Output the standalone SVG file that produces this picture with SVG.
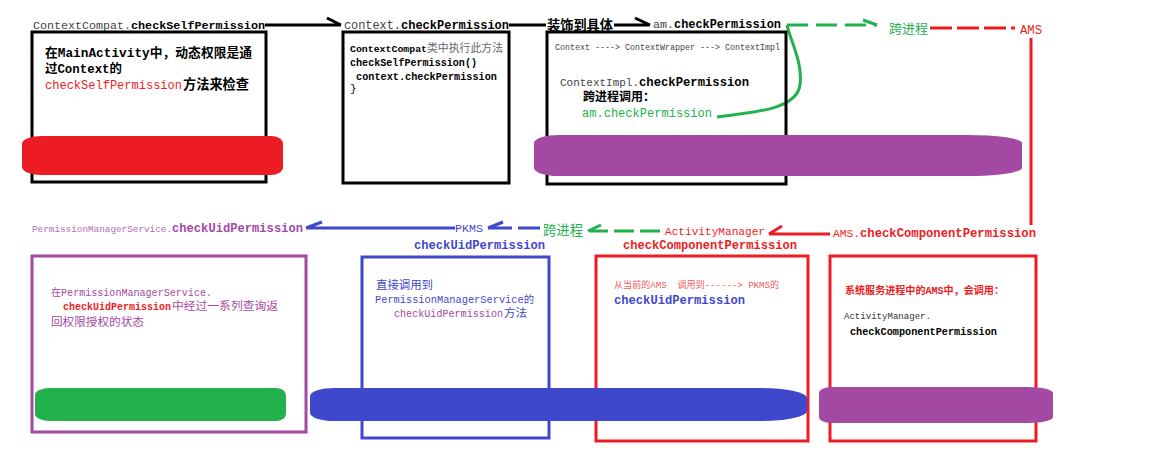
<svg xmlns="http://www.w3.org/2000/svg" width="1158" height="465" viewBox="0 0 1158 465">
<style>
text{font-family:"Liberation Mono","Noto Sans CJK SC",monospace}
.b{font-weight:bold}
.box{fill:none;stroke-width:3}
.ln{fill:none;stroke-width:3;stroke-linecap:butt}
</style>
<rect width="1158" height="465" fill="#fff"/>

<g id="connectors">
  <path class="ln" stroke="#000" d="M265,25 H341 M327,18 L341,25"/>
  <path class="ln" stroke="#000" d="M509,25 H546"/>
  <path class="ln" stroke="#000" d="M614,25 H650 M635,18 L650,25"/>
  <path class="ln" stroke="#22b14c" d="M717,117 C760,112 797,108 800,85 C803,62 790,40 787,25"/>
  <path class="ln" stroke="#22b14c" d="M787,25 H877" stroke-dasharray="21 8"/>
  <path class="ln" stroke="#22b14c" d="M863,20 L877,25"/>
  <path class="ln" stroke="#ed1c24" d="M930,28 H1015" stroke-dasharray="22 5"/>
  <path class="ln" stroke="#ed1c24" d="M1031,38 V225"/>
  <path class="ln" stroke="#ed1c24" d="M830,234 H769 M782,226 L769,234"/>
  <path class="ln" stroke="#22b14c" d="M660,231 H589" stroke-dasharray="20 6"/>
  <path class="ln" stroke="#22b14c" d="M601,225 L588,231"/>
  <path class="ln" stroke="#3f48cc" d="M512,228 H488 M518,228 H540 M503,222 L488,228"/>
  <path class="ln" stroke="#3f48cc" d="M455,228 H306 M322,222 L306,228"/>
</g>

<g id="label-contextcompat">
  <text x="33" y="29" font-size="11.7" fill="#444" textLength="98" lengthAdjust="spacingAndGlyphs">ContextCompat.</text>
  <text x="131" y="29" font-size="11.75" class="b" fill="#000" textLength="134" lengthAdjust="spacingAndGlyphs">checkSelfPermission</text>
</g>
<g id="label-context">
  <text x="344" y="29" font-size="11.9" fill="#444" textLength="57" lengthAdjust="spacingAndGlyphs">context.</text>
  <text x="401" y="29" font-size="12" class="b" fill="#000" textLength="108" lengthAdjust="spacingAndGlyphs">checkPermission</text>
  <text x="547" y="30" font-size="13.2" class="b" fill="#000" textLength="66" lengthAdjust="spacingAndGlyphs">装饰到具体</text>
</g>
<g id="label-am">
  <text x="653" y="28" font-size="11.7" fill="#444" textLength="21" lengthAdjust="spacingAndGlyphs">am.</text>
  <text x="674" y="28" font-size="11.9" class="b" fill="#000" textLength="107" lengthAdjust="spacingAndGlyphs">checkPermission</text>
  <text x="889" y="33" font-size="13" fill="#22b14c" textLength="39" lengthAdjust="spacingAndGlyphs">跨进程</text>
  <text x="1020" y="34" font-size="12.2" fill="#ed1c24" textLength="22" lengthAdjust="spacingAndGlyphs">AMS</text>
</g>

<g id="node-mainactivity">
  <rect class="box" x="32" y="32" width="234" height="150" stroke="#000"/>
  <text x="45" y="57" font-size="12.8" class="b" fill="#000" textLength="207" lengthAdjust="spacingAndGlyphs">在MainActivity中，动态权限是通</text>
  <text x="45" y="73" font-size="12.4" class="b" fill="#000" textLength="77" lengthAdjust="spacingAndGlyphs">过Context的</text>
  <text x="45" y="89" font-size="12" fill="#ed1c24" textLength="137" lengthAdjust="spacingAndGlyphs">checkSelfPermission</text>
  <text x="183" y="89" font-size="13.2" class="b" fill="#000" textLength="66" lengthAdjust="spacingAndGlyphs">方法来检查</text>
  <path fill="#ed1c24" d="M42,136 H271 A12,8 0 0 1 283,144 V167 A12,8 0 0 1 271,175 H42 A20,8 0 0 1 22,167 V144 A20,8 0 0 1 42,136 Z"/>
</g>

<g id="node-contextcompat">
  <rect class="box" x="343" y="32" width="166" height="151" stroke="#000"/>
  <text x="350" y="52" font-size="9.9" class="b" fill="#000" textLength="77" lengthAdjust="spacingAndGlyphs">ContextCompat</text>
  <text x="427" y="52" font-size="10.8" fill="#666" textLength="76" lengthAdjust="spacingAndGlyphs">类中执行此方法</text>
  <text x="350" y="66" font-size="10.1" class="b" fill="#000" textLength="127" lengthAdjust="spacingAndGlyphs">checkSelfPermission()</text>
  <text x="356" y="80" font-size="10.2" class="b" fill="#000" textLength="141" lengthAdjust="spacingAndGlyphs">context.checkPermission</text>
  <text x="350" y="92" font-size="11" fill="#000">}</text>
</g>

<g id="node-contextimpl">
  <rect class="box" x="547" y="32" width="239" height="152" stroke="#000"/>
  <text x="555" y="50" font-size="8.3" fill="#444" textLength="225" lengthAdjust="spacingAndGlyphs">Context ----&gt; ContextWrapper ---&gt; ContextImpl</text>
  <text x="560" y="86" font-size="11" fill="#444" textLength="79" lengthAdjust="spacingAndGlyphs">ContextImpl.</text>
  <text x="639" y="86" font-size="12.2" class="b" fill="#000" textLength="110" lengthAdjust="spacingAndGlyphs">checkPermission</text>
  <text x="583" y="101" font-size="12" class="b" fill="#000" textLength="72" lengthAdjust="spacingAndGlyphs">跨进程调用：</text>
  <text x="582" y="117" font-size="12" fill="#22b14c" textLength="130" lengthAdjust="spacingAndGlyphs">am.checkPermission</text>
  <path fill="#a349a4" d="M559,135 H967 A55,8 0 0 1 1022,143 V168 A55,8 0 0 1 967,176 H559 A25,8 0 0 1 534,168 V143 A25,8 0 0 1 559,135 Z"/>
</g>

<g id="label-bottom">
  <text x="32" y="232" font-size="9.3" fill="#b36cb4" textLength="140" lengthAdjust="spacingAndGlyphs">PermissionManagerService.</text>
  <text x="172" y="232" font-size="12.1" class="b" fill="#a349a4" textLength="131" lengthAdjust="spacingAndGlyphs">checkUidPermission</text>
  <text x="455" y="232" font-size="11.7" fill="#3f48cc" textLength="28" lengthAdjust="spacingAndGlyphs">PKMS</text>
  <text x="414" y="249" font-size="12.1" class="b" fill="#3f48cc" textLength="131" lengthAdjust="spacingAndGlyphs">checkUidPermission</text>
  <text x="543" y="235" font-size="13.3" fill="#22b14c" textLength="40" lengthAdjust="spacingAndGlyphs">跨进程</text>
  <text x="665" y="235" font-size="11.1" fill="#ed1c24" textLength="100" lengthAdjust="spacingAndGlyphs">ActivityManager</text>
  <text x="623" y="249" font-size="12.1" class="b" fill="#ed1c24" textLength="174" lengthAdjust="spacingAndGlyphs">checkComponentPermission</text>
  <text x="833" y="237" font-size="11.2" fill="#ed1c24" textLength="27" lengthAdjust="spacingAndGlyphs">AMS.</text>
  <text x="860" y="237" font-size="12.2" class="b" fill="#ed1c24" textLength="176" lengthAdjust="spacingAndGlyphs">checkComponentPermission</text>
</g>

<g id="node-ams">
  <rect class="box" x="830" y="256" width="206" height="185" stroke="#ed1c24"/>
  <text x="845" y="294" font-size="10" class="b" fill="#ed1c24" textLength="159" lengthAdjust="spacingAndGlyphs">系统服务进程中的AMS中，会调用：</text>
  <text x="844" y="319" font-size="9" fill="#333" textLength="87" lengthAdjust="spacingAndGlyphs">ActivityManager.</text>
  <text x="850" y="335" font-size="10.2" class="b" fill="#000" textLength="147" lengthAdjust="spacingAndGlyphs">checkComponentPermission</text>
  <path fill="#a349a4" d="M831,387 H1028 A25,6 0 0 1 1053,393 V417 A25,6 0 0 1 1028,423 H831 A12,6 0 0 1 819,417 V393 A12,6 0 0 1 831,387 Z"/>
</g>

<g id="node-activitymanager">
  <rect class="box" x="596" y="256" width="212" height="185" stroke="#ed1c24"/>
  <text x="614" y="288" font-size="9" fill="#f05a60" textLength="165" lengthAdjust="spacingAndGlyphs" xml:space="preserve">从当前的AMS  调用到------&gt; PKMS的</text>
  <text x="614" y="304" font-size="12.1" class="b" fill="#3f48cc" textLength="131" lengthAdjust="spacingAndGlyphs">checkUidPermission</text>
</g>

<g id="node-pkms">
  <rect class="box" x="362" y="257" width="187" height="181" stroke="#3f48cc"/>
  <text x="376" y="289" font-size="11.4" fill="#3f48cc" textLength="57" lengthAdjust="spacingAndGlyphs">直接调用到</text>
  <text x="375" y="303" font-size="10.3" fill="#3f48cc" textLength="159" lengthAdjust="spacingAndGlyphs">PermissionManagerService的</text>
  <text x="394" y="317" font-size="10.1" fill="#a349a4" textLength="109" lengthAdjust="spacingAndGlyphs">checkUidPermission</text>
  <text x="504" y="317" font-size="11.4" fill="#3f48cc" textLength="23" lengthAdjust="spacingAndGlyphs">方法</text>
  <path fill="#3f48cc" d="M335,388 H762 A45,10 0 0 1 807,398 V411 A45,10 0 0 1 762,421 H335 A25,8 0 0 1 310,413 V396 A25,8 0 0 1 335,388 Z"/>
</g>

<g id="node-pms">
  <rect class="box" x="32" y="256" width="274" height="176" stroke="#a349a4"/>
  <text x="51" y="296" font-size="10" fill="#a349a4" textLength="161" lengthAdjust="spacingAndGlyphs">在PermissionManagerService.</text>
  <text x="63" y="310" font-size="10" class="b" fill="#ed1c24" textLength="108" lengthAdjust="spacingAndGlyphs">checkUidPermission</text>
  <text x="172" y="310" font-size="11.7" fill="#a349a4" textLength="106" lengthAdjust="spacingAndGlyphs">中经过一系列查询返</text>
  <text x="51" y="326" font-size="11.6" fill="#a349a4" textLength="93" lengthAdjust="spacingAndGlyphs">回权限授权的状态</text>
  <path fill="#22b14c" d="M50,388 H276 A10,7 0 0 1 286,395 V414 A10,7 0 0 1 276,421 H50 A15,7 0 0 1 35,414 V395 A15,7 0 0 1 50,388 Z"/>
</g>
</svg>
